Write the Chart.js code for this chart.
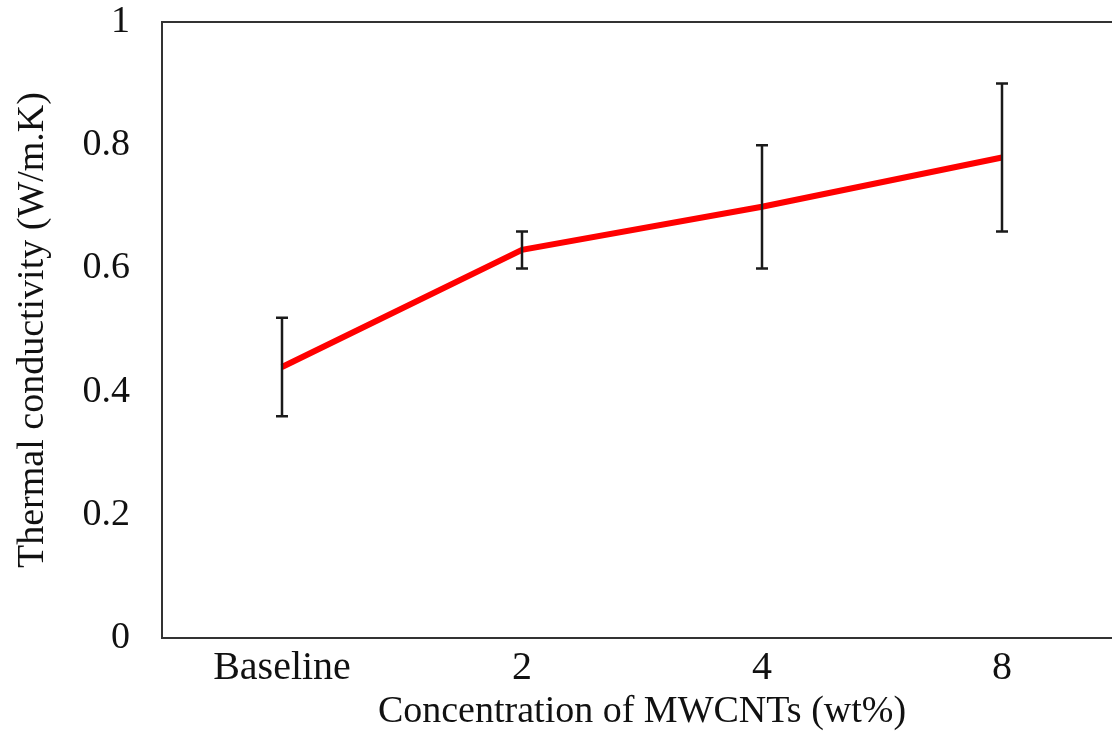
<!DOCTYPE html>
<html lang="en">
<head>
  <meta charset="UTF-8" />
  <title>Thermal conductivity vs MWCNTs</title>
  <script src="https://cdn.jsdelivr.net/npm/chart.js"></script>
  <style>
    html, body {
      margin: 0;
      padding: 0;
      background: #fff;
      overflow: hidden;
    }
    .wrap {
      position: relative;
      width: 1124px;
      height: 731px;
    }
  </style>
</head>
<body>
  <div class="wrap"><canvas id="chart"></canvas></div>

  <script>
    const categories = ['Baseline', '2', '4', '8'];
    const conductivity = [0.44, 0.63, 0.70, 0.78];
    const errLow = [0.36, 0.60, 0.60, 0.66];
    const errHigh = [0.52, 0.66, 0.80, 0.90];
    const yTicks = [0, 0.2, 0.4, 0.6, 0.8, 1];

    const serif = "'Liberation Serif', 'Times New Roman', serif";

    // error bars + top frame line
    const errorBars = {
      id: 'errorBars',
      afterDatasetsDraw(chart) {
        const { ctx, scales: { x, y }, chartArea } = chart;
        ctx.save();
        ctx.strokeStyle = '#1a1a1a';
        ctx.lineWidth = 2.5;
        categories.forEach((c, i) => {
          const px = x.getPixelForValue(i);
          const top = y.getPixelForValue(errHigh[i]);
          const bot = y.getPixelForValue(errLow[i]);
          ctx.beginPath();
          ctx.moveTo(px, top); ctx.lineTo(px, bot);
          ctx.moveTo(px - 6, top); ctx.lineTo(px + 6, top);
          ctx.moveTo(px - 6, bot); ctx.lineTo(px + 6, bot);
          ctx.stroke();
        });
        ctx.strokeStyle = '#333';
        ctx.lineWidth = 2;
        ctx.beginPath();
        ctx.moveTo(chartArea.left - 1, chartArea.top);
        ctx.lineTo(chartArea.right + 2, chartArea.top);
        ctx.stroke();
        ctx.restore();
      }
    };

    new Chart(document.getElementById('chart'), {
      type: 'line',
      data: {
        labels: categories,
        datasets: [{
          data: conductivity,
          borderColor: '#ff0000',
          borderWidth: 6,
          pointRadius: 0,
          tension: 0
        }]
      },
      options: {
        responsive: true,
        maintainAspectRatio: false,
        animation: false,
        layout: { padding: { top: 22, left: 0, right: 2, bottom: 0 } },
        plugins: {
          legend: { display: false },
          tooltip: { enabled: false }
        },
        scales: {
          x: {
            offset: true,
            grid: { display: false, drawTicks: false },
            border: { display: true, color: '#333', width: 2 },
            ticks: {
              color: '#111',
              font: { family: serif, size: 40 },
              padding: 6,
              maxRotation: 0
            },
            title: {
              display: true,
              text: 'Concentration of MWCNTs (wt%)',
              color: '#111',
              font: { family: serif, size: 38, lineHeight: 1 },
              padding: { top: 0, bottom: 0 }
            },
            afterFit(s) { s.height = 93; s.paddingLeft = 0; s.paddingRight = 0; }
          },
          y: {
            min: 0,
            max: 1,
            afterBuildTicks(s) { s.ticks = yTicks.map(v => ({ value: v })); },
            grid: { display: false, drawTicks: false },
            border: { display: true, color: '#333', width: 2 },
            ticks: {
              color: '#111',
              font: { family: serif, size: 38 },
              padding: 32,
              callback: v => String(v)
            },
            title: {
              display: true,
              text: 'Thermal conductivity (W/m.K)',
              color: '#111',
              font: { family: serif, size: 38 },
              padding: { top: 10, bottom: 0 }
            },
            afterFit(s) { s.width = 162; s.paddingTop = 0; s.paddingBottom = 0; }
          }
        }
      },
      plugins: [errorBars]
    });
  </script>
</body>
</html>
